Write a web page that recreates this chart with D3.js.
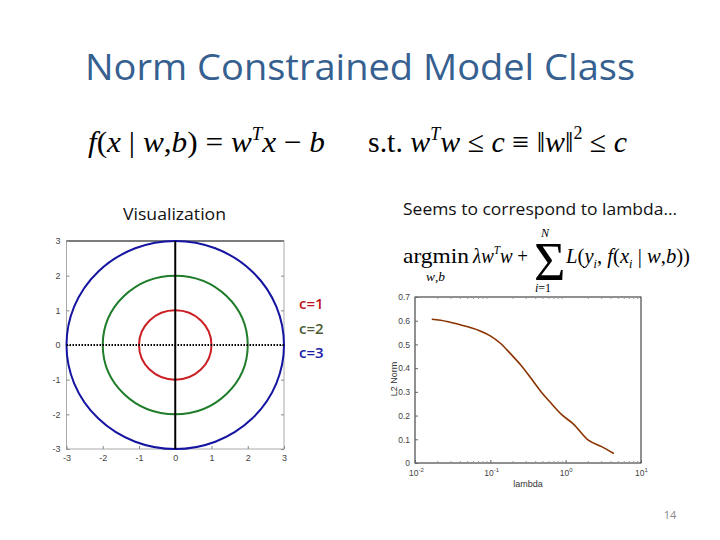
<!DOCTYPE html>
<html><head><meta charset="utf-8">
<script src="https://cdn.jsdelivr.net/npm/d3@7"></script>
<style>body{margin:0;background:#fff}svg{display:block}</style>
</head><body><svg id="c" width="720" height="540"></svg>
<script>
// ---- data ----
const titleText = "Norm Constrained Model Class";
const leftCaption = "Visualization";
const rightCaption = "Seems to correspond to lambda…";
const radii = [1, 2, 3];
const legendLabels = ["c=1", "c=2", "c=3"];
const circleColors = ["#cc1f24", "#1f7d2a", "#1414a0"];
const legendColors = ["#c0141c", "#4d5b33", "#1a1aa8"];
const leftTicks = [-3, -2, -1, 0, 1, 2, 3];
const lambdaVals = [0.0167, 0.0265, 0.0398, 0.0705, 0.101, 0.137, 0.186, 0.255, 0.347, 0.468, 0.646, 0.871, 1.26, 2.0, 3.0, 4.37];
const l2Norm =     [0.606, 0.597, 0.583, 0.559, 0.535, 0.504, 0.46, 0.412, 0.357, 0.302, 0.251, 0.206, 0.165, 0.096, 0.069, 0.04];
const rightYTicks = [0, 0.1, 0.2, 0.3, 0.4, 0.5, 0.6, 0.7];
const rightXExps = [-2, -1, 0, 1];
const pageNum = "14";

const svg = d3.select("#c");
const serif = "'Liberation Serif','Times New Roman',serif";
const sans = "'Open Sans','Noto Sans',sans-serif";
const small = "'Liberation Sans',Arial,sans-serif";

// title
svg.append("text").attr("x", 360).attr("y", 80).attr("text-anchor", "middle")
  .attr("font-family", sans).attr("font-size", 37).attr("fill", "#36608f")
  .attr("textLength", 550).attr("lengthAdjust", "spacingAndGlyphs").text(titleText);

// formula helper
function formula(x, y, size, parts, len) {
  const t = svg.append("text").attr("x", x).attr("y", y).attr("font-family", serif)
    .attr("font-size", size).attr("fill", "#000");
  if (len) t.attr("textLength", len).attr("lengthAdjust", "spacingAndGlyphs");
  parts.forEach(p => {
    const s = t.append("tspan").text(p.t);
    if (p.i) s.attr("font-style", "italic");
    if (p.dy) s.attr("dy", p.dy);
    if (p.fs) s.attr("font-size", p.fs);
    if (p.x != null) s.attr("x", p.x);
    if (p.y != null) s.attr("y", p.y);
  });
  return t;
}
formula(88, 152, 30, [
  {t:"f", i:1},{t:"("},{t:"x", i:1},{t:" | "},{t:"w", i:1},{t:","},{t:"b", i:1},{t:") = "},
  {t:"w", i:1},{t:"T", i:1, dy:-12, fs:18},{t:"x", i:1, dy:12},{t:" − "},{t:"b", i:1}
], 237);
formula(368, 152, 30, [
  {t:"s.t. "},{t:"w", i:1},{t:"T", i:1, dy:-12, fs:18},{t:"w", i:1, dy:12},{t:" ≤ "},{t:"c", i:1},
  {t:" ≡ ‖"},{t:"w", i:1},{t:"‖"},{t:"2", dy:-13, fs:18},{t:" ≤ ", dy:13},{t:"c", i:1}
], 259);

// second formula
formula(403, 263, 22, [{t:"argmin"}], 66);
formula(426, 281, 12, [{t:"w", i:1},{t:","},{t:"b", i:1}], 19);
formula(473, 263, 22, [
  {t:"λ", i:1},{t:"w", i:1},{t:"T", i:1, dy:-9, fs:13},{t:"w", i:1, dy:9},{t:" +"}
], 55);
// summation sign with limits, one text element
formula(534, 280, 54, [
  {t:"Σ"},
  {t:"N", i:1, fs:12, x:541, y:237},
  {t:"i", i:1, fs:12, x:535, y:292},{t:"=1", fs:12}
]);
formula(566, 263, 22, [
  {t:"L", i:1},{t:"("},{t:"y", i:1},{t:"i", i:1, dy:5, fs:13},{t:", ", dy:-5},{t:"f", i:1},{t:"("},
  {t:"x", i:1},{t:"i", i:1, dy:5, fs:13},{t:" | ", dy:-5},{t:"w", i:1},{t:","},{t:"b", i:1},{t:"))"}
], 124);

// captions
svg.append("text").attr("x", 123).attr("y", 220).attr("font-family", sans)
  .attr("font-size", 16).attr("fill", "#111").attr("textLength", 103).attr("lengthAdjust", "spacingAndGlyphs").text(leftCaption);
svg.append("text").attr("x", 403).attr("y", 215).attr("font-family", sans)
  .attr("font-size", 16).attr("fill", "#111").attr("textLength", 274).attr("lengthAdjust", "spacingAndGlyphs").text(rightCaption);

// ---- left chart ----
const xL = d3.scaleLinear().domain([-3, 3]).range([66.5, 284]);
const yL = d3.scaleLinear().domain([-3, 3]).range([449, 241]);
const gL = svg.append("g");
gL.append("rect").attr("x", xL(-3)).attr("y", yL(3)).attr("width", xL(3) - xL(-3)).attr("height", yL(-3) - yL(3))
  .attr("fill", "none").attr("stroke", "#aaa").attr("stroke-width", 1);
gL.append("line").attr("x1", xL(-3)).attr("x2", xL(3)).attr("y1", yL(3)).attr("y2", yL(3)).attr("stroke", "#222");
const fmtInt = d => (d < 0 ? "-" : "") + Math.abs(d);
const axL = gL.append("g").attr("transform", `translate(${xL(-3)},0)`)
  .call(d3.axisLeft(yL).tickValues(leftTicks).tickSizeInner(-3).tickSizeOuter(0).tickPadding(6).tickFormat(fmtInt));
const axB = gL.append("g").attr("transform", `translate(0,${yL(-3)})`)
  .call(d3.axisBottom(xL).tickValues(leftTicks).tickSizeInner(-3).tickSizeOuter(0).tickPadding(6).tickFormat(fmtInt));
const axR = gL.append("g").attr("transform", `translate(${xL(3)},0)`)
  .call(d3.axisRight(yL).tickValues(leftTicks).tickSizeInner(-3).tickSizeOuter(0).tickFormat(""));
[axL, axB, axR].forEach(a => {
  a.select(".domain").remove();
  a.selectAll("line").attr("stroke", "#888");
  a.selectAll("text").attr("font-family", small).attr("font-size", 9).attr("fill", "#444");
});
gL.selectAll(".circ").data(radii).enter().append("ellipse")
  .attr("cx", xL(0)).attr("cy", yL(0))
  .attr("rx", d => xL(d) - xL(0)).attr("ry", d => yL(0) - yL(d))
  .attr("fill", "none").attr("stroke", (d, i) => circleColors[i]).attr("stroke-width", 2);
gL.append("line").attr("x1", xL(0)).attr("x2", xL(0)).attr("y1", yL(3)).attr("y2", yL(-3))
  .attr("stroke", "#000").attr("stroke-width", 2);
gL.append("line").attr("x1", xL(-3)).attr("x2", xL(3)).attr("y1", yL(0)).attr("y2", yL(0))
  .attr("stroke", "#000").attr("stroke-width", 2).attr("stroke-dasharray", "1.5,1.5");

// legend
svg.selectAll(".leg").data(legendLabels).enter().append("text")
  .attr("x", 299).attr("y", (d, i) => 309 + i * 24.5)
  .attr("font-family", sans).attr("font-size", 15).attr("font-weight", 600)
  .attr("fill", (d, i) => legendColors[i]).text(d => d);

// ---- right chart ----
const xR = d3.scaleLog().domain([0.01, 10]).range([415, 641]);
const yR = d3.scaleLinear().domain([0, 0.7]).range([463, 297]);
const gR = svg.append("g");
gR.append("rect").attr("x", xR.range()[0]).attr("y", yR(0.7)).attr("width", xR.range()[1] - xR.range()[0])
  .attr("height", yR(0) - yR(0.7)).attr("fill", "none").attr("stroke", "#222").attr("stroke-width", 1);
const ayR = gR.append("g").attr("transform", `translate(${xR.range()[0]},0)`)
  .call(d3.axisLeft(yR).tickValues(rightYTicks).tickSizeInner(-3).tickSizeOuter(0).tickPadding(5).tickFormat(d => d === 0 ? "0" : d3.format(".1f")(d)));
const minor = [];
for (let e = -2; e < 1; e++) for (let m = 2; m < 10; m++) minor.push(m * Math.pow(10, e));
const axRb = gR.append("g").attr("transform", `translate(0,${yR(0)})`)
  .call(d3.axisBottom(xR).tickValues(rightXExps.map(e => Math.pow(10, e))).tickSizeInner(-3).tickSizeOuter(0).tickFormat(""));
gR.selectAll(".mn").data(minor).enter().append("line")
  .attr("x1", d => xR(d)).attr("x2", d => xR(d)).attr("y1", yR(0.7)).attr("y2", yR(0.7) + 2).attr("stroke", "#999");
gR.selectAll(".mnb").data(minor).enter().append("line")
  .attr("x1", d => xR(d)).attr("x2", d => xR(d)).attr("y1", yR(0)).attr("y2", yR(0) - 2).attr("stroke", "#999");
[ayR, axRb].forEach(a => {
  a.select(".domain").remove();
  a.selectAll("line").attr("stroke", "#666");
  a.selectAll("text").attr("font-family", small).attr("font-size", 8.5).attr("fill", "#444");
});
const xl = gR.selectAll(".xl").data(rightXExps).enter().append("text")
  .attr("x", d => xR(Math.pow(10, d)) - 6).attr("y", 476)
  .attr("font-family", small).attr("font-size", 8.5).attr("fill", "#444");
xl.append("tspan").text("10");
xl.append("tspan").attr("dy", -4).attr("font-size", 6).text(d => d);
gR.append("text").attr("x", 528).attr("y", 487).attr("text-anchor", "middle")
  .attr("font-family", small).attr("font-size", 9).attr("fill", "#333").text("lambda");
gR.append("text").attr("transform", "translate(397,379) rotate(-90)").attr("text-anchor", "middle")
  .attr("font-family", small).attr("font-size", 9).attr("fill", "#333").text("L2 Norm");
const pts = lambdaVals.map((l, i) => [l, l2Norm[i]]);
gR.append("path").datum(pts)
  .attr("d", d3.line().x(d => xR(d[0])).y(d => yR(d[1])).curve(d3.curveMonotoneX))
  .attr("fill", "none").attr("stroke", "#8b3300").attr("stroke-width", 1.6);

// page number
svg.append("text").attr("x", 670).attr("y", 519).attr("text-anchor", "middle")
  .attr("font-family", sans).attr("font-size", 11).attr("fill", "#888").text(pageNum);
</script></body></html>
